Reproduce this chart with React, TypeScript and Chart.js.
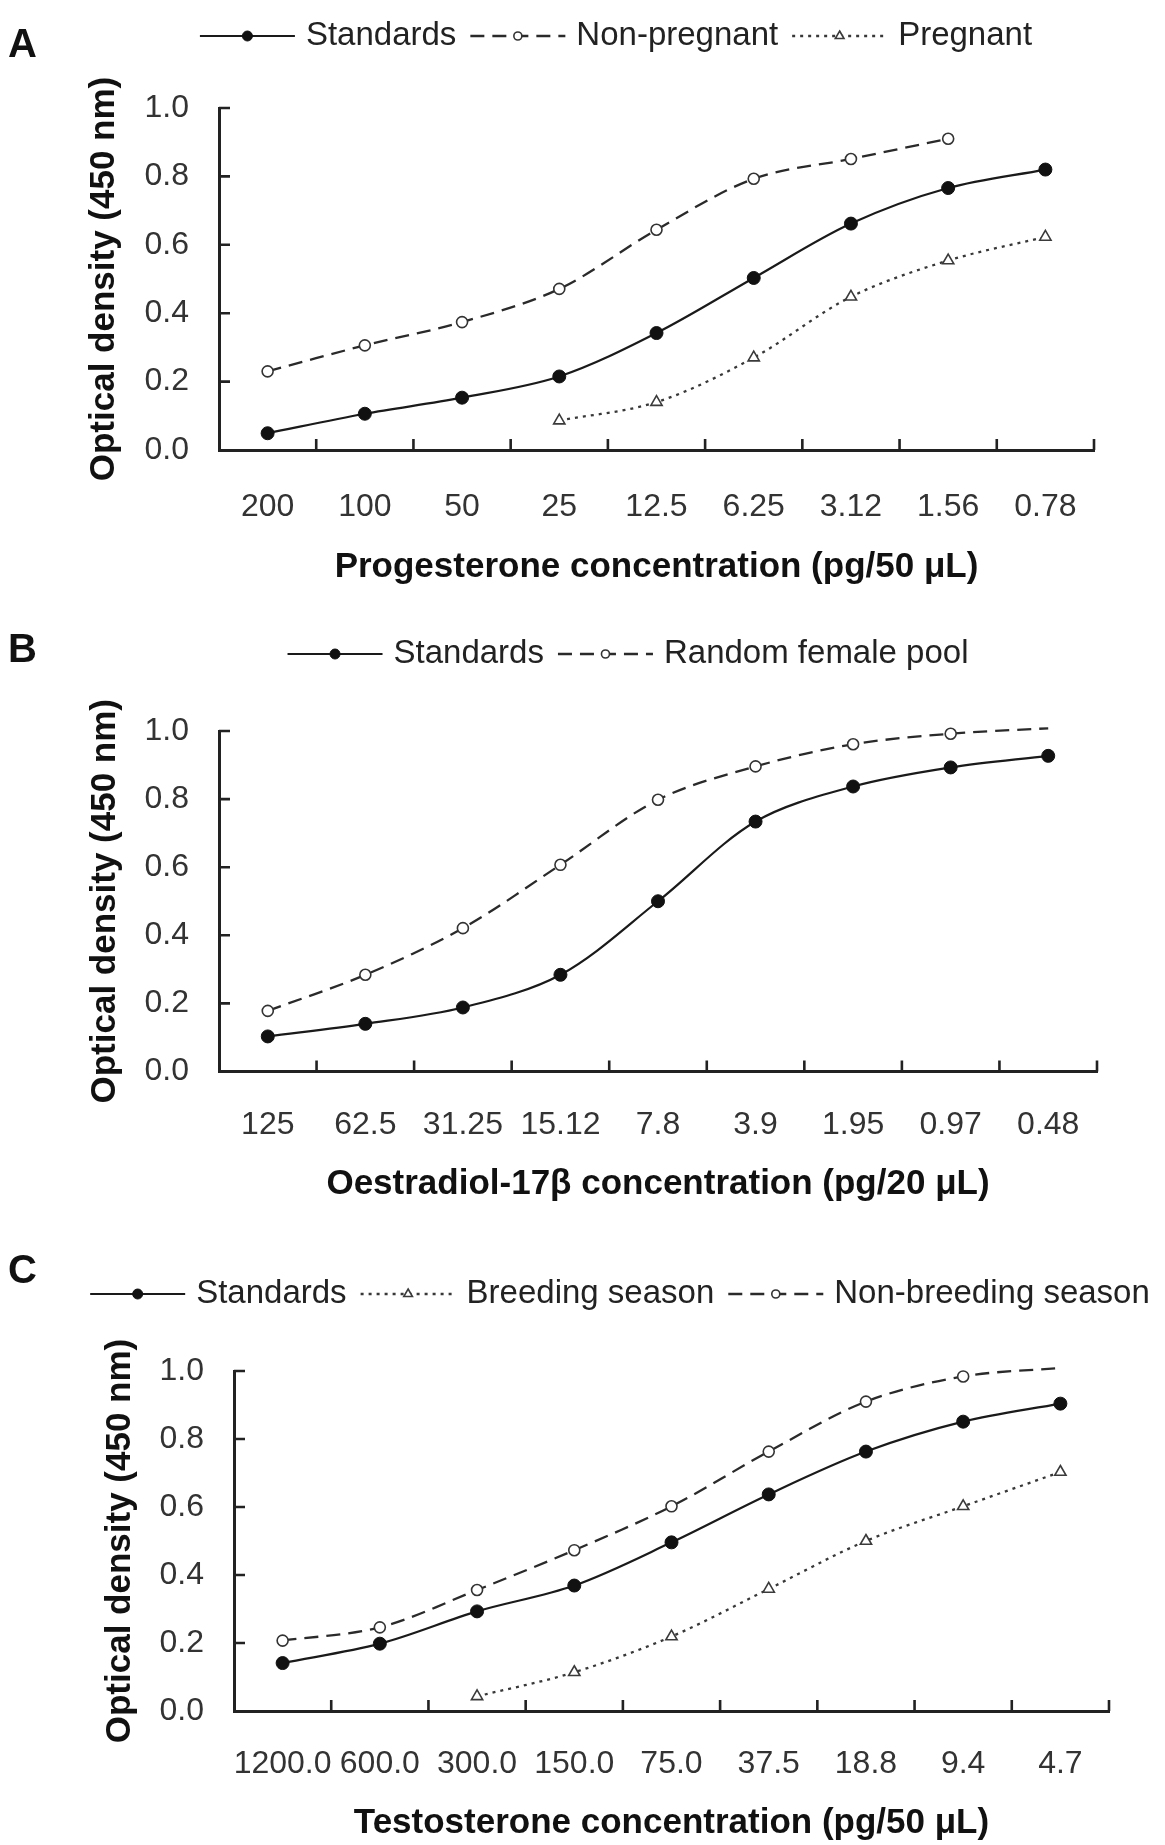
import React, { useEffect, useRef } from "react";
import { Chart, registerables } from "chart.js";

Chart.register(...registerables);

// ---------------- Data ----------------
// Panel A: progesterone
const progesteroneLabels = ["200", "100", "50", "25", "12.5", "6.25", "3.12", "1.56", "0.78"];
const progesteroneStandards = [0.049, 0.106, 0.153, 0.215, 0.342, 0.503, 0.662, 0.766, 0.82];
const progesteroneNonPregnant = [0.23, 0.306, 0.374, 0.471, 0.644, 0.793, 0.851, 0.91, null];
const progesteronePregnant = [null, null, null, 0.086, 0.14, 0.27, 0.448, 0.554, 0.623];

// Panel B: oestradiol-17β
const oestradiolLabels = ["125", "62.5", "31.25", "15.12", "7.8", "3.9", "1.95", "0.97", "0.48"];
const oestradiolStandards = [0.103, 0.14, 0.188, 0.284, 0.5, 0.734, 0.837, 0.893, 0.927];
const oestradiolFemalePool = [0.178, 0.284, 0.421, 0.607, 0.798, 0.896, 0.961, 0.992, 1.008];

// Panel C: testosterone
const testosteroneLabels = ["1200.0", "600.0", "300.0", "150.0", "75.0", "37.5", "18.8", "9.4", "4.7"];
const testosteroneStandards = [0.141, 0.198, 0.293, 0.369, 0.496, 0.637, 0.763, 0.851, 0.904];
const testosteroneBreeding = [null, null, 0.043, 0.114, 0.219, 0.359, 0.5, 0.602, 0.703];
const testosteroneNonBreeding = [0.207, 0.246, 0.356, 0.473, 0.602, 0.763, 0.91, 0.984, 1.009];

const yTickValues = [0, 0.2, 0.4, 0.6, 0.8, 1.0];
const yAxisTitle = "Optical density (450 nm)";

// ---------------- Styles ----------------
const FONT = '"Liberation Sans", Arial, Helvetica, sans-serif';
const W = 1165;

const STYLES: any = {
  solid: {
    borderColor: "#1a1a1a", borderWidth: 2.2, borderDash: [],
    pointStyle: "circle", pointRadius: 6.5, pointBackgroundColor: "#111", pointBorderColor: "#111",
    pointBorderWidth: 1, legendRadius: 5,
  },
  dashed: {
    borderColor: "#2a2a2a", borderWidth: 2.3, borderDash: [14, 8],
    pointStyle: "circle", pointRadius: 5.5, pointBackgroundColor: "#fff", pointBorderColor: "#333",
    pointBorderWidth: 1.6, legendRadius: 4,
  },
  dotted: {
    borderColor: "#383838", borderWidth: 2.3, borderDash: [3, 5],
    pointStyle: "triangle", pointRadius: 6.5, pointBackgroundColor: "#fff", pointBorderColor: "#3a3a3a",
    pointBorderWidth: 1.6, legendRadius: 5,
  },
};

function drawMarker(ctx: CanvasRenderingContext2D, style: any, x: number, y: number, r: number) {
  ctx.save();
  ctx.setLineDash([]);
  ctx.lineWidth = style.pointBorderWidth;
  ctx.strokeStyle = style.pointBorderColor;
  ctx.fillStyle = style.pointBackgroundColor;
  ctx.beginPath();
  if (style.pointStyle === "triangle") {
    const s = Math.sin(Math.PI / 3);
    ctx.moveTo(x, y - r);
    ctx.lineTo(x + r * s, y + r * 0.5);
    ctx.lineTo(x - r * s, y + r * 0.5);
    ctx.closePath();
  } else {
    ctx.arc(x, y, r, 0, Math.PI * 2);
  }
  ctx.fill();
  ctx.stroke();
  ctx.restore();
}

const decorPlugin = {
  id: "decor",
  afterDraw(chart: any, _args: any, opts: any) {
    const { ctx, chartArea, scales } = chart;
    const xs = scales.x;
    const ys = scales.y;
    ctx.save();
    // inner tick marks
    ctx.strokeStyle = "#222";
    ctx.lineWidth = 2.6;
    ctx.setLineDash([]);
    const tl = 11;
    ctx.beginPath();
    yTickValues.forEach((v) => {
      if (v === 0) return;
      const py = ys.getPixelForValue(v);
      ctx.moveTo(chartArea.left, py);
      ctx.lineTo(chartArea.left + tl, py);
    });
    const n = chart.data.labels.length;
    for (let i = 0; i < n; i++) {
      const p0 = xs.getPixelForValue(i);
      const p1 = i < n - 1 ? xs.getPixelForValue(i + 1) : p0 + (p0 - xs.getPixelForValue(i - 1));
      const px = (p0 + p1) / 2;
      ctx.moveTo(px, chartArea.bottom);
      ctx.lineTo(px, chartArea.bottom - tl);
    }
    ctx.stroke();

    // panel letter
    ctx.fillStyle = "#111";
    ctx.font = `bold 40px ${FONT}`;
    ctx.textAlign = "left";
    ctx.textBaseline = "alphabetic";
    ctx.fillText(opts.letter, 8, opts.letterBaseline);

    // legend (line + marker sample, then text)
    const items = chart.data.datasets.map((d: any) => ({ label: d.label, style: STYLES[d.styleKey] }));
    ctx.font = `33px ${FONT}`;
    const sampleLen = 95;
    const g1 = 11;
    const g2 = 14;
    let total = 0;
    items.forEach((it: any, i: number) => {
      total += sampleLen + g1 + ctx.measureText(it.label).width + (i < items.length - 1 ? g2 : 0);
    });
    let x = opts.legendCenter - total / 2;
    const ly = opts.legendY;
    items.forEach((it: any) => {
      const st = it.style;
      ctx.save();
      ctx.strokeStyle = st.borderColor;
      ctx.lineWidth = st.borderWidth;
      ctx.setLineDash(st.borderDash);
      ctx.beginPath();
      ctx.moveTo(x, ly);
      ctx.lineTo(x + sampleLen, ly);
      ctx.stroke();
      ctx.restore();
      drawMarker(ctx, st, x + sampleLen / 2, ly, st.legendRadius);
      x += sampleLen + g1;
      ctx.fillStyle = "#222";
      ctx.textBaseline = "middle";
      ctx.fillText(it.label, x, ly);
      x += ctx.measureText(it.label).width + g2;
    });
    ctx.restore();
  },
};

type Series = { label: string; data: (number | null)[]; styleKey: string; hideLast?: boolean };
type PanelProps = {
  top: number; height: number; letter: string; letterBaseline: number;
  legendY: number; legendCenter: number;
  labels: string[]; series: Series[]; xTitle: string;
  chartTop: number; chartBottom: number; left: number; right: number;
  labelPad: number; xScaleH: number; yTitleX: number;
};

function Panel(p: PanelProps) {
  const ref = useRef<HTMLCanvasElement | null>(null);
  useEffect(() => {
    if (!ref.current) return;
    const datasets = p.series.map((s) => {
      const st = STYLES[s.styleKey];
      const last = s.data.length - 1;
      return {
        label: s.label,
        styleKey: s.styleKey,
        data: s.data,
        borderColor: st.borderColor,
        borderWidth: st.borderWidth,
        borderDash: st.borderDash,
        borderCapStyle: "butt",
        pointStyle: st.pointStyle,
        pointRadius: s.hideLast ? (c: any) => (c.dataIndex === last ? 0 : st.pointRadius) : st.pointRadius,
        pointBackgroundColor: st.pointBackgroundColor,
        pointBorderColor: st.pointBorderColor,
        pointBorderWidth: st.pointBorderWidth,
        tension: 0.33,
        fill: false,
        clip: false,
        spanGaps: false,
      };
    });
    const chart = new Chart(ref.current, {
      type: "line",
      data: { labels: p.labels, datasets: datasets as any },
      options: {
        responsive: false,
        animation: false,
        events: [],
        layout: {
          padding: { top: p.chartTop, left: 0, right: W - p.right, bottom: p.height - p.chartBottom - p.xScaleH },
        },
        plugins: {
          legend: { display: false },
          tooltip: { enabled: false },
          decor: { letter: p.letter, letterBaseline: p.letterBaseline, legendY: p.legendY, legendCenter: p.legendCenter },
        } as any,
        scales: {
          x: {
            type: "category",
            offset: true,
            grid: { display: false, drawTicks: false },
            border: { display: true, color: "#222", width: 3 },
            ticks: {
              autoSkip: false, maxRotation: 0, minRotation: 0, padding: p.labelPad,
              color: "#333", font: { family: FONT, size: 32 },
            },
            title: {
              display: true, text: p.xTitle, color: "#111",
              font: { family: FONT, size: 35, weight: "bold" }, padding: { top: 0, bottom: 0 },
            },
            afterFit: (s: any) => { s.height = p.xScaleH; },
          },
          y: {
            min: 0, max: 1,
            grid: { display: false, drawTicks: false },
            border: { display: true, color: "#222", width: 3 },
            afterBuildTicks: (s: any) => { s.ticks = yTickValues.map((v) => ({ value: v })); },
            ticks: {
              padding: 30, color: "#333", font: { family: FONT, size: 32 },
              callback: (v: any) => Number(v).toFixed(1),
            },
            title: {
              display: true, text: yAxisTitle, color: "#111",
              font: { family: FONT, size: 35, weight: "bold" }, padding: { top: p.yTitleX - 21, bottom: 0 },
            },
            afterFit: (s: any) => { s.width = p.left; },
          },
        },
      } as any,
      plugins: [decorPlugin as any],
    });
    return () => chart.destroy();
  }, []);
  return (
    <canvas
      ref={ref}
      width={W}
      height={p.height}
      style={{ position: "absolute", left: 0, top: p.top, width: W, height: p.height, display: "block" }}
    />
  );
}

export default function App() {
  return (
    <div style={{ position: "absolute", left: 0, top: 0, width: W, height: 1845, background: "#fff", overflow: "hidden" }}>
      <Panel
        top={0} height={610} letter="A" letterBaseline={57} legendY={36} legendCenter={616}
        labels={progesteroneLabels}
        series={[
          { label: "Standards", data: progesteroneStandards, styleKey: "solid" },
          { label: "Non-pregnant", data: progesteroneNonPregnant, styleKey: "dashed" },
          { label: "Pregnant", data: progesteronePregnant, styleKey: "dotted" },
        ]}
        xTitle="Progesterone concentration (pg/50 μL)"
        chartTop={108} chartBottom={450} left={219} right={1094} labelPad={38} xScaleH={138} yTitleX={104}
      />
      <Panel
        top={610} height={615} letter="B" letterBaseline={52} legendY={44} legendCenter={628}
        labels={oestradiolLabels}
        series={[
          { label: "Standards", data: oestradiolStandards, styleKey: "solid" },
          { label: "Random female pool", data: oestradiolFemalePool, styleKey: "dashed", hideLast: true },
        ]}
        xTitle="Oestradiol-17β concentration (pg/20 μL)"
        chartTop={121} chartBottom={461.5} left={219} right={1097} labelPad={34} xScaleH={134} yTitleX={105}
      />
      <Panel
        top={1225} height={620} letter="C" letterBaseline={58} legendY={69} legendCenter={620}
        labels={testosteroneLabels}
        series={[
          { label: "Standards", data: testosteroneStandards, styleKey: "solid" },
          { label: "Breeding season", data: testosteroneBreeding, styleKey: "dotted" },
          { label: "Non-breeding season", data: testosteroneNonBreeding, styleKey: "dashed", hideLast: true },
        ]}
        xTitle="Testosterone concentration (pg/50 μL)"
        chartTop={146} chartBottom={486} left={234} right={1109} labelPad={34} xScaleH={133} yTitleX={120}
      />
    </div>
  );
}
